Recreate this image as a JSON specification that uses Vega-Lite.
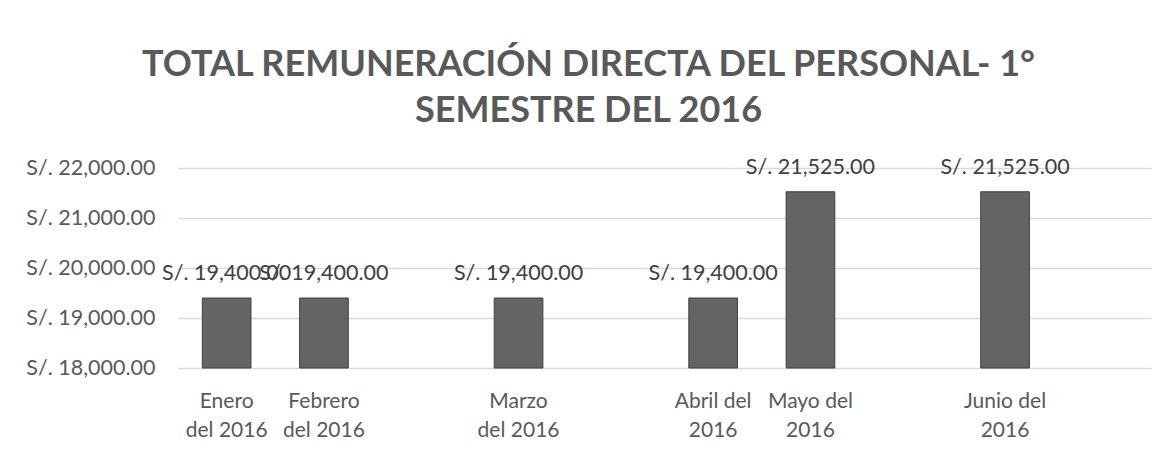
{
  "$schema": "https://vega.github.io/schema/vega-lite/v6.json",
  "width": 973,
  "height": 200,
  "autosize": {"type": "none"},
  "padding": {"left": 178, "top": 168, "right": 25, "bottom": 85},
  "background": "white",
  "config": {
    "view": {"stroke": null},
    "font": "Lato",
    "locale": {
      "number": {"decimal": ".", "thousands": ",", "grouping": [3], "currency": ["S/. ", ""]}
    }
  },
  "title": {
    "text": ["TOTAL REMUNERACIÓN DIRECTA DEL PERSONAL- 1°", "SEMESTRE DEL 2016"],
    "font": "Lato",
    "fontSize": 36,
    "fontWeight": "bold",
    "color": "#595959",
    "anchor": "middle",
    "lineHeight": 46,
    "dx": -76,
    "offset": 27
  },
  "data": {
    "values": [
      {"mes": "Enero del 2016", "monto": 19400},
      {"mes": "Febrero del 2016", "monto": 19400},
      {"mes": "Marzo del 2016", "monto": 19400},
      {"mes": "Abril del 2016", "monto": 19400},
      {"mes": "Mayo del 2016", "monto": 21525},
      {"mes": "Junio del 2016", "monto": 21525}
    ]
  },
  "encoding": {
    "x": {
      "field": "mes",
      "type": "nominal",
      "sort": null,
      "scale": {
        "domain": ["Enero del 2016", "Febrero del 2016", "_1", "Marzo del 2016", "_2", "Abril del 2016", "Mayo del 2016", "_3", "Junio del 2016", "_4"],
        "paddingInner": 0.5,
        "paddingOuter": 0.25
      },
      "axis": {
        "title": null,
        "domain": false,
        "ticks": false,
        "labelAngle": 0,
        "labelFont": "Lato",
        "labelFontSize": 21,
        "labelColor": "#595959",
        "labelPadding": 22,
        "labelLineHeight": 29,
        "labelOverlap": false,
        "labelExpr": "indexof(['Enero del 2016','Febrero del 2016','Marzo del 2016'], datum.label) >= 0 ? [slice(datum.label, 0, indexof(datum.label, ' ')), slice(datum.label, indexof(datum.label, ' ') + 1)] : (indexof(datum.label, '_') == 0 ? '' : [slice(datum.label, 0, length(datum.label) - 5), '2016'])"
      }
    },
    "y": {
      "field": "monto",
      "type": "quantitative",
      "scale": {"domain": [18000, 22000], "zero": false, "nice": false},
      "axis": {
        "title": null,
        "domain": false,
        "ticks": false,
        "values": [18000, 19000, 20000, 21000, 22000],
        "labelOverlap": false,
        "format": "$,.2f",
        "labelFont": "Lato",
        "labelFontSize": 21.5,
        "labelColor": "#595959",
        "labelPadding": 23,
        "gridColor": "#d9d9d9",
        "gridWidth": 1.5
      }
    }
  },
  "layer": [
    {
      "mark": {"type": "bar", "color": "#646464", "stroke": "#3f3f3f", "strokeWidth": 1},
      "encoding": {"y2": {"datum": 18000}}
    },
    {
      "mark": {"type": "text", "baseline": "alphabetic", "dy": -18, "font": "Lato", "fontSize": 21.5, "color": "#404040"},
      "encoding": {"text": {"field": "monto", "type": "quantitative", "format": "$,.2f"}}
    }
  ]
}
